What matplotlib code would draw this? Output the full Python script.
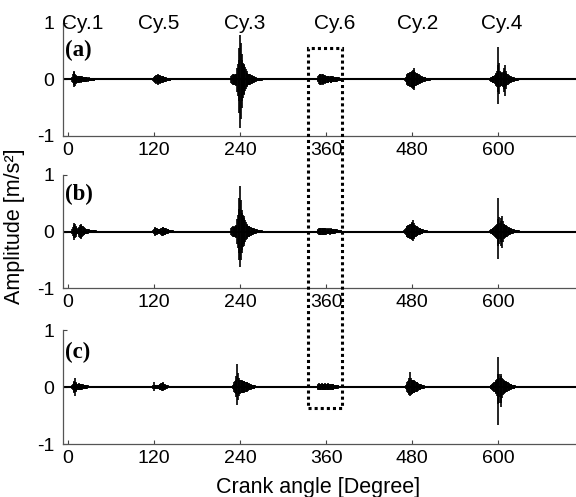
"""Engine vibration traces (three conditions) over one 720 deg cycle."""

import matplotlib.pyplot as plt
from matplotlib.patches import Rectangle
from matplotlib.transforms import blended_transform_factory
import numpy as np

plt.rcParams["font.family"] = ["Liberation Sans", "DejaVu Sans"]
plt.rcParams["axes.unicode_minus"] = False

XTICKS = [0, 120, 240, 360, 480, 600]
YTICKS = [-1, 0, 1]
CYL_LABELS = ["Cy.1", "Cy.5", "Cy.3", "Cy.6", "Cy.2", "Cy.4"]
CYL_LABEL_X = [21, 127, 246, 372, 487, 604]
PANEL_TAGS = ["(a)", "(b)", "(c)"]

# burst onset (deg) for each cylinder, then max / min of the trace per degree
start_a = [6, 119, 228, 348, 470, 588]
hi_a = [
    [0.05, 0.09, 0.13, 0.15, 0.10, 0.08, 0.07, 0.06, 0.07, 0.06, 0.07, 0.06,
     0.06, 0.05, 0.06, 0.05, 0.05, 0.04, 0.05, 0.04, 0.04, 0.04, 0.03, 0.04,
     0.03, 0.03, 0.03, 0.03, 0.02, 0.02, 0.02, 0.02, 0.02, 0.01],
    [0.02, 0.04, 0.06, 0.07, 0.08, 0.08, 0.09, 0.08, 0.08, 0.07, 0.08, 0.07,
     0.06, 0.07, 0.06, 0.05, 0.05, 0.04, 0.04, 0.03, 0.03, 0.03, 0.02, 0.02,
     0.02, 0.02, 0.01, 0.01],
    [0.06, 0.08, 0.09, 0.08, 0.09, 0.08, 0.09, 0.10,
     0.20, 0.28, 0.35, 0.55, 0.79, 0.65, 0.45, 0.35, 0.30, 0.28, 0.25, 0.22,
     0.18, 0.15, 0.12, 0.10,
     0.10, 0.09, 0.09, 0.08, 0.08, 0.07, 0.07, 0.06, 0.05, 0.05, 0.04,
     0.03, 0.03, 0.03, 0.03, 0.02, 0.02, 0.02, 0.02, 0.01, 0.01],
    [0.03, 0.06, 0.08, 0.09, 0.09, 0.08, 0.09, 0.08, 0.09, 0.08, 0.07, 0.08,
     0.07, 0.06, 0.07, 0.06, 0.06, 0.05, 0.06, 0.07, 0.06, 0.05, 0.06, 0.05,
     0.05, 0.04, 0.05, 0.04, 0.04, 0.03, 0.04, 0.03, 0.03, 0.02, 0.02, 0.01],
    [0.03, 0.05, 0.08, 0.10, 0.11, 0.12, 0.12, 0.13, 0.14, 0.13, 0.15, 0.17,
     0.20, 0.16, 0.13, 0.12, 0.11, 0.10, 0.10, 0.09, 0.08, 0.07, 0.07, 0.06,
     0.05, 0.05, 0.04, 0.04, 0.04, 0.03, 0.03, 0.03, 0.03, 0.02, 0.02, 0.02,
     0.01, 0.01],
    [0.02, 0.03, 0.04, 0.05, 0.06, 0.06, 0.07, 0.08, 0.10, 0.12, 0.15, 0.25,
     0.58, 0.30, 0.15, 0.13, 0.12, 0.12, 0.13, 0.15, 0.20, 0.26, 0.15, 0.12,
     0.10, 0.09, 0.08, 0.07, 0.07, 0.06, 0.05, 0.05, 0.04, 0.04, 0.03, 0.03,
     0.03, 0.02, 0.02, 0.02, 0.02, 0.01, 0.01],
]
lo_a = [
    [-0.04, -0.07, -0.10, -0.13, -0.11, -0.08, -0.07, -0.06, -0.06, -0.06,
     -0.07, -0.05, -0.06, -0.05, -0.05, -0.05, -0.04, -0.05, -0.04, -0.04,
     -0.04, -0.03, -0.04, -0.03, -0.03, -0.03, -0.03, -0.02, -0.02, -0.02,
     -0.02, -0.02, -0.01, -0.01],
    [-0.02, -0.04, -0.05, -0.07, -0.08, -0.07, -0.08, -0.09, -0.07, -0.08,
     -0.07, -0.06, -0.07, -0.06, -0.05, -0.05, -0.05, -0.04, -0.04, -0.03,
     -0.03, -0.03, -0.02, -0.02, -0.02, -0.01, -0.01, -0.01],
    [-0.06, -0.08, -0.09, -0.08, -0.09, -0.09, -0.10, -0.12,
     -0.22, -0.30, -0.38, -0.60, -0.85, -0.70, -0.50, -0.38, -0.33, -0.28,
     -0.25, -0.20, -0.17, -0.14, -0.12, -0.10,
     -0.10, -0.09, -0.09, -0.08, -0.08, -0.07, -0.06, -0.06, -0.05, -0.05,
     -0.04,
     -0.03, -0.03, -0.03, -0.02, -0.02, -0.02, -0.02, -0.02, -0.01, -0.01],
    [-0.03, -0.05, -0.08, -0.09, -0.08, -0.09, -0.08, -0.09, -0.08, -0.07,
     -0.08, -0.07, -0.06, -0.07, -0.06, -0.06, -0.05, -0.05, -0.06, -0.06,
     -0.05, -0.05, -0.05, -0.04, -0.05, -0.04, -0.04, -0.04, -0.03, -0.03,
     -0.03, -0.03, -0.02, -0.02, -0.01, -0.01],
    [-0.03, -0.05, -0.08, -0.10, -0.11, -0.12, -0.12, -0.13, -0.14, -0.13,
     -0.15, -0.16, -0.18, -0.15, -0.12, -0.11, -0.10, -0.10, -0.09, -0.08,
     -0.08, -0.07, -0.06, -0.06, -0.05, -0.05, -0.04, -0.04, -0.03, -0.03,
     -0.03, -0.03, -0.02, -0.02, -0.02, -0.01, -0.01, -0.01],
    [-0.02, -0.03, -0.04, -0.05, -0.06, -0.06, -0.07, -0.08, -0.10, -0.12,
     -0.14, -0.22, -0.44, -0.25, -0.14, -0.12, -0.12, -0.11, -0.13, -0.16,
     -0.22, -0.30, -0.16, -0.12, -0.10, -0.09, -0.08, -0.07, -0.06, -0.06,
     -0.05, -0.05, -0.04, -0.04, -0.03, -0.03, -0.03, -0.02, -0.02, -0.02,
     -0.01, -0.01, -0.01],
]

start_b = [6, 119, 228, 348, 469, 588]
hi_b = [
    [0.05, 0.08, 0.12, 0.15, 0.13, 0.10, 0.08, 0.06, 0.05, 0.06, 0.08, 0.11,
     0.13, 0.12, 0.10, 0.09, 0.08, 0.07, 0.06, 0.05, 0.05, 0.04, 0.04, 0.04,
     0.03, 0.03, 0.03, 0.03, 0.03, 0.02, 0.02, 0.02, 0.02, 0.02, 0.01, 0.01,
     0.01, 0.01],
    [0.02, 0.04, 0.07, 0.08, 0.07, 0.06, 0.05, 0.04, 0.04, 0.04, 0.05, 0.06,
     0.07, 0.08, 0.08, 0.07, 0.06, 0.07, 0.06, 0.05, 0.04, 0.04, 0.03, 0.03,
     0.03, 0.02, 0.02, 0.02, 0.01, 0.01],
    [0.06, 0.08, 0.09, 0.08, 0.08, 0.09, 0.10, 0.12,
     0.22, 0.30, 0.40, 0.60, 0.80, 0.55, 0.38, 0.32, 0.30, 0.27, 0.24, 0.20,
     0.17, 0.14, 0.12, 0.10,
     0.10, 0.09, 0.08, 0.08, 0.07, 0.07, 0.06, 0.06, 0.05, 0.05, 0.04,
     0.04, 0.03, 0.03, 0.03, 0.02, 0.02, 0.02, 0.02, 0.01, 0.01],
    [0.03, 0.05, 0.07, 0.07, 0.06, 0.07, 0.07, 0.06, 0.07, 0.06, 0.07, 0.06,
     0.05, 0.06, 0.05, 0.05, 0.06, 0.05, 0.05, 0.06, 0.05, 0.04, 0.05, 0.04,
     0.04, 0.04, 0.03, 0.04, 0.03, 0.03, 0.03, 0.02, 0.02, 0.02, 0.01, 0.01],
    [0.03, 0.05, 0.07, 0.09, 0.10, 0.11, 0.12, 0.12, 0.13, 0.14, 0.15, 0.17,
     0.21, 0.15, 0.12, 0.11, 0.10, 0.09, 0.08, 0.08, 0.07, 0.06, 0.06, 0.05,
     0.05, 0.04, 0.04, 0.03, 0.03, 0.03, 0.02, 0.02, 0.01, 0.01],
    [0.02, 0.03, 0.04, 0.05, 0.06, 0.07, 0.08, 0.09, 0.10, 0.12, 0.14, 0.22,
     0.59, 0.25, 0.15, 0.18, 0.24, 0.28, 0.18, 0.14, 0.13, 0.12, 0.11, 0.10,
     0.09, 0.08, 0.08, 0.07, 0.06, 0.06, 0.05, 0.05, 0.04, 0.04, 0.03, 0.03,
     0.03, 0.02, 0.02, 0.02, 0.02, 0.01, 0.01],
]
lo_b = [
    [-0.05, -0.08, -0.12, -0.15, -0.12, -0.09, -0.07, -0.05, -0.05, -0.06,
     -0.09, -0.12, -0.13, -0.11, -0.09, -0.08, -0.07, -0.06, -0.05, -0.05,
     -0.04, -0.04, -0.04, -0.03, -0.03, -0.03, -0.03, -0.03, -0.02, -0.02,
     -0.02, -0.02, -0.02, -0.02, -0.01, -0.01, -0.01, -0.01],
    [-0.02, -0.04, -0.06, -0.08, -0.07, -0.06, -0.05, -0.04, -0.03, -0.04,
     -0.05, -0.06, -0.08, -0.08, -0.07, -0.07, -0.06, -0.06, -0.05, -0.05,
     -0.04, -0.03, -0.03, -0.03, -0.02, -0.02, -0.02, -0.02, -0.01, -0.01],
    [-0.06, -0.08, -0.09, -0.09, -0.08, -0.09, -0.10, -0.12,
     -0.22, -0.30, -0.38, -0.50, -0.62, -0.50, -0.38, -0.32, -0.28, -0.25,
     -0.22, -0.18, -0.15, -0.13, -0.11, -0.10,
     -0.09, -0.09, -0.08, -0.08, -0.07, -0.06, -0.06, -0.05, -0.05, -0.04,
     -0.04,
     -0.03, -0.03, -0.03, -0.02, -0.02, -0.02, -0.02, -0.01, -0.01, -0.01],
    [-0.03, -0.05, -0.06, -0.07, -0.07, -0.06, -0.07, -0.07, -0.06, -0.07,
     -0.06, -0.05, -0.06, -0.05, -0.05, -0.05, -0.05, -0.06, -0.05, -0.05,
     -0.04, -0.05, -0.04, -0.04, -0.04, -0.03, -0.03, -0.03, -0.03, -0.03,
     -0.02, -0.02, -0.02, -0.01, -0.01, -0.01],
    [-0.03, -0.05, -0.07, -0.09, -0.10, -0.11, -0.12, -0.12, -0.13, -0.13,
     -0.14, -0.15, -0.16, -0.13, -0.11, -0.10, -0.09, -0.08, -0.08, -0.07,
     -0.06, -0.06, -0.05, -0.05, -0.04, -0.04, -0.03, -0.03, -0.03, -0.02,
     -0.02, -0.02, -0.01, -0.01],
    [-0.02, -0.03, -0.04, -0.05, -0.06, -0.07, -0.08, -0.09, -0.10, -0.12,
     -0.14, -0.25, -0.48, -0.22, -0.14, -0.18, -0.25, -0.30, -0.18, -0.14,
     -0.12, -0.11, -0.10, -0.10, -0.09, -0.08, -0.07, -0.07, -0.06, -0.05,
     -0.05, -0.04, -0.04, -0.03, -0.03, -0.03, -0.02, -0.02, -0.02, -0.02,
     -0.01, -0.01, -0.01],
]

start_c = [6, 118, 230, 347, 471, 588]
hi_c = [
    [0.04, 0.06, 0.08, 0.11, 0.15, 0.09, 0.07, 0.06, 0.06, 0.07, 0.06, 0.06,
     0.05, 0.06, 0.05, 0.05, 0.04, 0.04, 0.04, 0.03, 0.03, 0.03, 0.03, 0.02,
     0.02, 0.02, 0.02, 0.02, 0.01, 0.01, 0.01, 0.01],
    [0.02, 0.04, 0.08, 0.04, 0.03, 0.03, 0.03, 0.03, 0.04, 0.04, 0.05, 0.06,
     0.07, 0.07, 0.08, 0.07, 0.06, 0.05, 0.04, 0.04, 0.03, 0.03, 0.02, 0.02,
     0.01, 0.01],
    [0.04, 0.05, 0.08, 0.10, 0.12, 0.20, 0.41, 0.25, 0.15, 0.13, 0.12, 0.12,
     0.11, 0.12, 0.11, 0.10, 0.10, 0.09, 0.09, 0.08, 0.08, 0.07, 0.07, 0.06,
     0.05, 0.05, 0.04, 0.04, 0.03, 0.03, 0.03, 0.03, 0.02, 0.02, 0.02, 0.02,
     0.02, 0.01, 0.01, 0.01],
    [0.02, 0.04, 0.06, 0.07, 0.06, 0.05, 0.06, 0.07, 0.06, 0.05, 0.06, 0.07,
     0.06, 0.06, 0.05, 0.06, 0.07, 0.06, 0.05, 0.05, 0.04, 0.05, 0.06, 0.05,
     0.04, 0.04, 0.03, 0.04, 0.03, 0.03, 0.03, 0.02, 0.02, 0.02, 0.01, 0.01],
    [0.04, 0.06, 0.08, 0.10, 0.12, 0.16, 0.26, 0.16, 0.13, 0.12, 0.12, 0.11,
     0.12, 0.10, 0.09, 0.08, 0.08, 0.07, 0.06, 0.06, 0.05, 0.05, 0.04, 0.04,
     0.03, 0.03, 0.02, 0.02, 0.01, 0.01],
    [0.02, 0.03, 0.04, 0.05, 0.06, 0.07, 0.08, 0.09, 0.10, 0.12, 0.14, 0.22,
     0.52, 0.22, 0.16, 0.20, 0.23, 0.16, 0.14, 0.12, 0.11, 0.10, 0.10, 0.09,
     0.08, 0.08, 0.07, 0.06, 0.06, 0.05, 0.05, 0.04, 0.04, 0.03, 0.03, 0.03,
     0.02, 0.02, 0.02, 0.02, 0.01, 0.01, 0.01],
]
lo_c = [
    [-0.04, -0.06, -0.08, -0.10, -0.15, -0.08, -0.07, -0.06, -0.06, -0.06,
     -0.06, -0.05, -0.05, -0.05, -0.05, -0.04, -0.04, -0.04, -0.03, -0.03,
     -0.03, -0.03, -0.02, -0.02, -0.02, -0.02, -0.02, -0.01, -0.01, -0.01,
     -0.01, -0.01],
    [-0.02, -0.04, -0.07, -0.04, -0.03, -0.03, -0.03, -0.03, -0.03, -0.04,
     -0.05, -0.06, -0.06, -0.07, -0.07, -0.06, -0.05, -0.05, -0.04, -0.03,
     -0.03, -0.02, -0.02, -0.02, -0.01, -0.01],
    [-0.04, -0.05, -0.08, -0.10, -0.12, -0.18, -0.32, -0.22, -0.15, -0.13,
     -0.12, -0.11, -0.11, -0.11, -0.10, -0.10, -0.09, -0.09, -0.08, -0.08,
     -0.07, -0.07, -0.06, -0.06, -0.05, -0.05, -0.04, -0.04, -0.03, -0.03,
     -0.03, -0.02, -0.02, -0.02, -0.02, -0.02, -0.01, -0.01, -0.01, -0.01],
    [-0.02, -0.04, -0.06, -0.06, -0.06, -0.05, -0.06, -0.06, -0.06, -0.05,
     -0.06, -0.06, -0.06, -0.05, -0.05, -0.06, -0.06, -0.05, -0.05, -0.05,
     -0.04, -0.05, -0.05, -0.05, -0.04, -0.04, -0.03, -0.03, -0.03, -0.03,
     -0.02, -0.02, -0.02, -0.02, -0.01, -0.01],
    [-0.04, -0.06, -0.08, -0.10, -0.12, -0.14, -0.15, -0.14, -0.12, -0.12,
     -0.11, -0.11, -0.10, -0.09, -0.09, -0.08, -0.07, -0.07, -0.06, -0.05,
     -0.05, -0.04, -0.04, -0.03, -0.03, -0.03, -0.02, -0.02, -0.01, -0.01],
    [-0.02, -0.03, -0.04, -0.05, -0.06, -0.07, -0.08, -0.09, -0.10, -0.12,
     -0.15, -0.30, -0.67, -0.28, -0.18, -0.28, -0.35, -0.20, -0.14, -0.12,
     -0.11, -0.10, -0.09, -0.09, -0.08, -0.07, -0.07, -0.06, -0.05, -0.05,
     -0.04, -0.04, -0.03, -0.03, -0.03, -0.02, -0.02, -0.02, -0.02, -0.01,
     -0.01, -0.01, -0.01],
]

# window marking cylinder 6 (deg)
BOX_X = (334, 382)


def draw_panel(ax, starts, highs, lows, tag, tag_y):
    """One vibration trace: flat baseline plus the firing bursts."""
    ax.plot([-7, 708], [0, 0], color="k", lw=1.5, zorder=2)
    for s, hi, lo in zip(starts, highs, lows):
        x = s + np.arange(len(hi))
        ax.vlines(x, lo, hi, color="k", lw=1.2, zorder=3)

    ax.set_xlim(-7, 708)
    ax.set_ylim(-1, 1)
    ax.set_xticks(XTICKS)
    ax.set_yticks(YTICKS)
    ax.tick_params(direction="in", length=3, width=0.8, labelsize=14,
                   color="#444444")
    ax.tick_params(axis="x", pad=4)
    ax.tick_params(axis="y", pad=6)
    for side in ("top", "right"):
        ax.spines[side].set_visible(False)
    for side in ("left", "bottom"):
        ax.spines[side].set_color("#555555")
        ax.spines[side].set_linewidth(0.9)

    ax.text(-4, tag_y, tag, family="Liberation Serif", weight="bold",
            fontsize=16.5, ha="left", va="center")


fig = plt.figure(figsize=(5.76, 4.97), dpi=100)
left, width, height = 0.109, 0.891, 0.2274
ax_a = fig.add_axes([left, 0.7264, width, height])
ax_b = fig.add_axes([left, 0.4205, width, height])
ax_c = fig.add_axes([left, 0.1066, width, height + 0.002])

draw_panel(ax_a, start_a, hi_a, lo_a, PANEL_TAGS[0], 0.51)
draw_panel(ax_b, start_b, hi_b, lo_b, PANEL_TAGS[1], 0.65)
draw_panel(ax_c, start_c, hi_c, lo_c, PANEL_TAGS[2], 0.60)

for name, xc in zip(CYL_LABELS, CYL_LABEL_X):
    ax_a.text(xc, 0.9, name, fontsize=15, ha="center", va="baseline",
              clip_on=False)

# dotted window spanning the three panels
trans = blended_transform_factory(ax_a.transData, fig.transFigure)
box = Rectangle((BOX_X[0], 0.179), BOX_X[1] - BOX_X[0], 0.903 - 0.179,
                transform=trans, fill=False, ec="k", lw=2.2,
                ls=(0, (1, 1)), clip_on=False, zorder=10)
fig.patches.append(box)

fig.text(0.026, 0.545, "Amplitude [m/s²]", rotation=90, fontsize=15.5,
         ha="center", va="center")
fig.text(0.552, 0.02, "Crank angle [Degree]", fontsize=15.5,
         ha="center", va="center")

fig.savefig("out.png", dpi=100)
